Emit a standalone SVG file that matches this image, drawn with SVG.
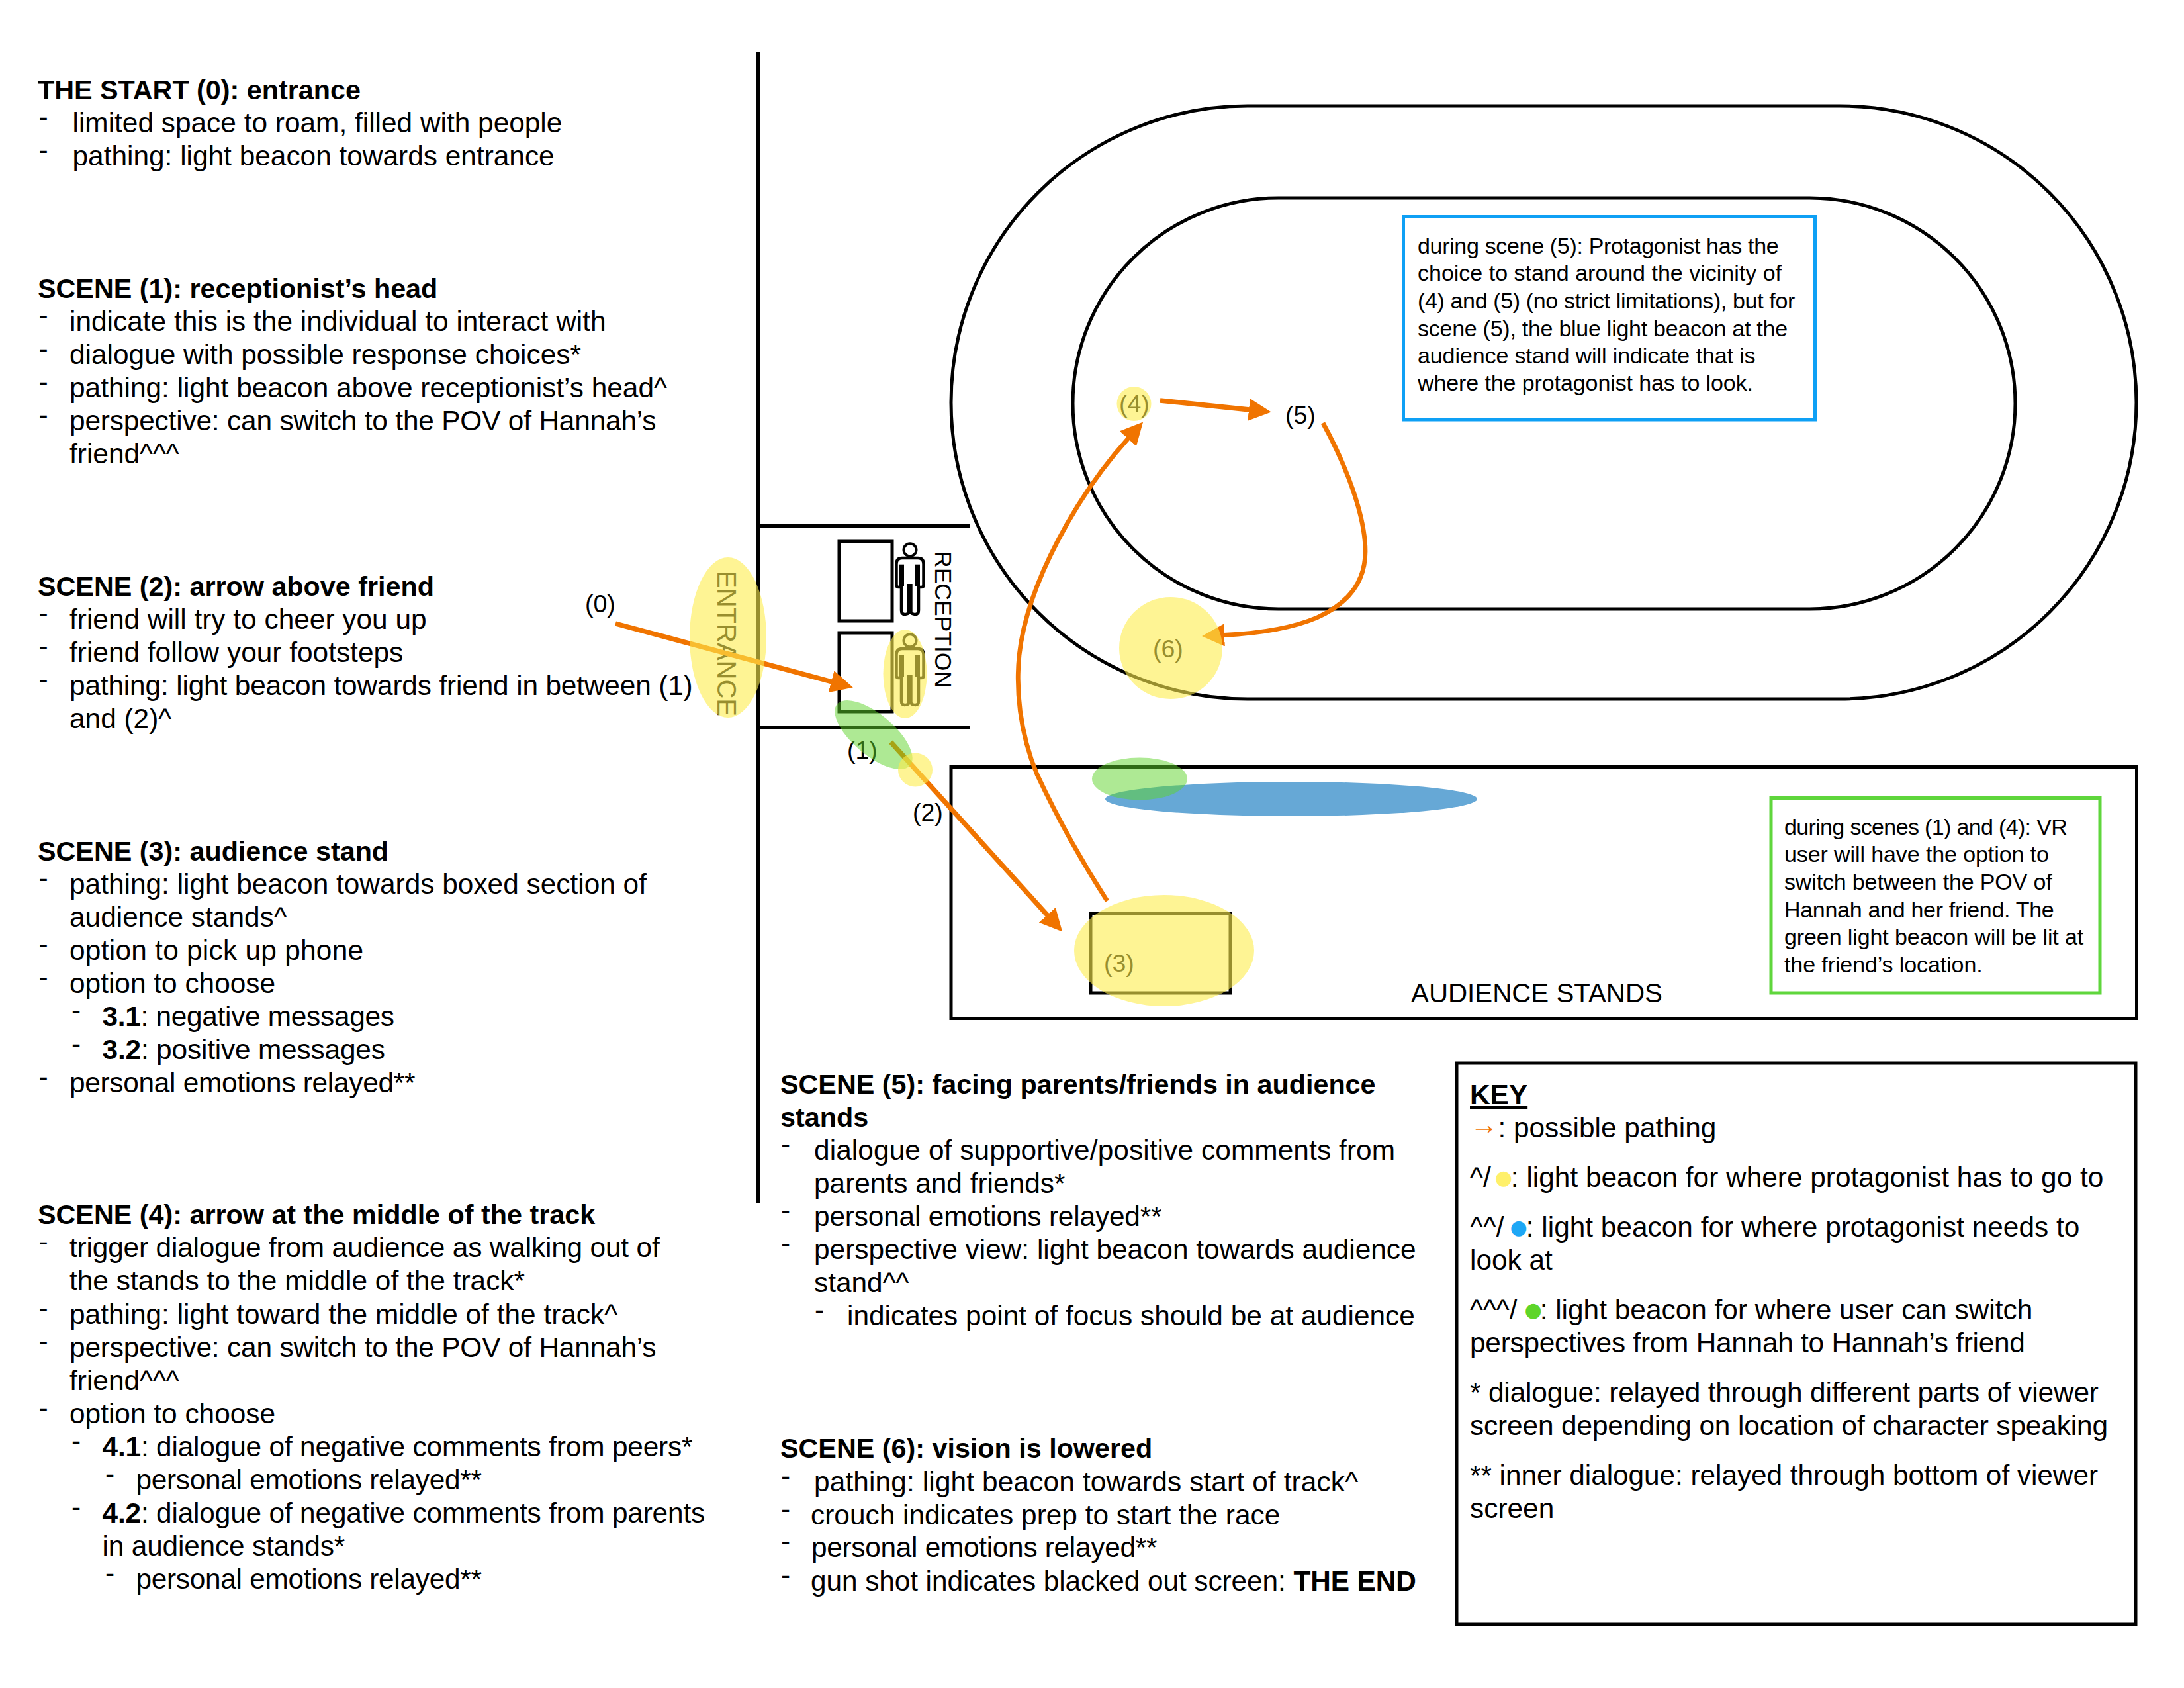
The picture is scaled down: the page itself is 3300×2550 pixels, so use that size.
<svg xmlns="http://www.w3.org/2000/svg" xmlns:xlink="http://www.w3.org/1999/xlink" width="3300" height="2550" viewBox="0 0 3300 2550">
<style>
text{font-family:"Liberation Sans",Arial,sans-serif;fill:#000}
.t{font-size:42.4px}
.b{font-size:41.3px;font-weight:700}
.b2{font-weight:700}
.d{font-size:42.4px}
.n{font-size:34px}
.l{font-size:37.5px}
.ln{fill:none;stroke:#000;stroke-width:5}
.wall{fill:none;stroke:#000;stroke-width:5}
.y{fill:rgb(254,237,76);fill-opacity:.6}
.g{fill:rgb(94,212,42);fill-opacity:.5}
.a{fill:none;stroke:#f07400;stroke-width:7.5;marker-end:url(#head)}
.cv{stroke-width:6.8}
.dot{font-family:"DejaVu Sans",sans-serif;font-size:30px}
.k30{letter-spacing:-.3px}
.k18{letter-spacing:-.18px}
</style>
<defs>
<marker id="head" markerUnits="userSpaceOnUse" viewBox="0 0 34 34" markerWidth="34" markerHeight="34" refX="1" refY="17" orient="auto"><polygon points="0,0 34,17 0,34" fill="#f07400"/></marker>
<g id="person">
<circle cx="0" cy="20.7" r="9.5" fill="none" stroke="#000" stroke-width="4"/>
<path d="M-12 33H12Q20.5 33 20.5 42V74Q20.5 77 17 77H13V112Q13 118 8 118Q3 118 0 114Q-3 118-8 118Q-13 118-13 112V77H-17Q-20.5 77-20.5 74V42Q-20.5 33-12 33Z" fill="none" stroke="#000" stroke-width="4.5"/>
<rect x="-16" y="42.7" width="7" height="33"/>
<rect x="8" y="42.7" width="7" height="33"/>
<rect x="-5" y="72" width="8.7" height="43"/>
</g>
</defs>
<rect width="3300" height="2550" fill="#fff"/>

<g id="scene-0" transform="translate(0,2)">
<text class="b" x="57" y="148">THE START (0): entrance</text>
<text class="d" x="58.5" y="189">-</text><text class="t" x="109.5" y="198">limited space to roam, filled with people</text>
<text class="d" x="58.5" y="239">-</text><text class="t" x="109.5" y="248">pathing: light beacon towards entrance</text>
</g>
<g id="scene-1" transform="translate(0,2)">
<text class="b" x="57" y="448">SCENE (1): receptionist’s head</text>
<text class="d" x="58.5" y="489">-</text><text class="t" x="105" y="498">indicate this is the individual to interact with</text>
<text class="d" x="58.5" y="539">-</text><text class="t" x="105" y="548">dialogue with possible response choices*</text>
<text class="d" x="58.5" y="589">-</text><text class="t" x="105" y="598">pathing: light beacon above receptionist’s head^</text>
<text class="d" x="58.5" y="639">-</text><text class="t k18" x="105" y="648">perspective: can switch to the POV of Hannah’s</text>
<text class="t" x="105" y="698">friend^^^</text>
</g>
<g id="scene-2" transform="translate(0,2)">
<text class="b" x="57" y="898">SCENE (2): arrow above friend</text>
<text class="d" x="58.5" y="939">-</text><text class="t" x="105" y="948">friend will try to cheer you up</text>
<text class="d" x="58.5" y="989">-</text><text class="t" x="105" y="998">friend follow your footsteps</text>
<text class="d" x="58.5" y="1039">-</text><text class="t" style="letter-spacing:-.16px" x="105" y="1048">pathing: light beacon towards friend in between (1)</text>
<text class="t" x="105" y="1098">and (2)^</text>
</g>
<g id="scene-3" transform="translate(0,2)">
<text class="b" x="57" y="1298">SCENE (3): audience stand</text>
<text class="d" x="58.5" y="1339">-</text><text class="t" x="105" y="1348">pathing: light beacon towards boxed section of</text>
<text class="t" x="105" y="1398">audience stands^</text>
<text class="d" x="58.5" y="1439">-</text><text class="t" style="letter-spacing:.26px" x="105" y="1448">option to pick up phone</text>
<text class="d" x="58.5" y="1489">-</text><text class="t" x="105" y="1498">option to choose</text>
<text class="d" x="108" y="1539">-</text><text class="t k30" x="154.5" y="1548"><tspan class="b2">3.1</tspan>: negative messages</text>
<text class="d" x="108" y="1589">-</text><text class="t k18" x="154.5" y="1598"><tspan class="b2">3.2</tspan>: positive messages</text>
<text class="d" x="58.5" y="1639">-</text><text class="t k30" x="105" y="1648">personal emotions relayed**</text>
</g>
<g id="scene-4" transform="translate(0,2)">
<text class="b" x="57" y="1847">SCENE (4): arrow at the middle of the track</text>
<text class="d" x="58.5" y="1888">-</text><text class="t k18" x="105" y="1897">trigger dialogue from audience as walking out of</text>
<text class="t" x="105" y="1947">the stands to the middle of the track*</text>
<text class="d" x="58.5" y="1989">-</text><text class="t" x="105" y="1998">pathing: light toward the middle of the track^</text>
<text class="d" x="58.5" y="2039">-</text><text class="t k18" x="105" y="2048">perspective: can switch to the POV of Hannah’s</text>
<text class="t" x="105" y="2098">friend^^^</text>
<text class="d" x="58.5" y="2139">-</text><text class="t" x="105" y="2148">option to choose</text>
<text class="d" x="108" y="2189">-</text><text class="t k18" x="154.5" y="2198"><tspan class="b2">4.1</tspan>: dialogue of negative comments from peers*</text>
<text class="d" x="159" y="2239">-</text><text class="t k30" x="205.5" y="2248">personal emotions relayed**</text>
<text class="d" x="108" y="2289">-</text><text class="t k18" x="154.5" y="2298"><tspan class="b2">4.2</tspan>: dialogue of negative comments from parents</text>
<text class="t k18" x="154.5" y="2348">in audience stands*</text>
<text class="d" x="159" y="2389">-</text><text class="t k30" x="205.5" y="2398">personal emotions relayed**</text>
</g>
<g id="scene-5" transform="translate(0,2)">
<text class="b" x="1179" y="1650">SCENE (5): facing parents/friends in audience</text>
<text class="b" x="1179" y="1700">stands</text>
<text class="d" x="1180" y="1741">-</text><text class="t" style="letter-spacing:.09px" x="1230" y="1750">dialogue of supportive/positive comments from</text>
<text class="t" x="1230" y="1800">parents and friends*</text>
<text class="d" x="1180" y="1841">-</text><text class="t k18" x="1230" y="1850">personal emotions relayed**</text>
<text class="d" x="1180" y="1891">-</text><text class="t" x="1230" y="1900">perspective view: light beacon towards audience</text>
<text class="t" x="1230" y="1950">stand^^</text>
<text class="d" x="1231" y="1991">-</text><text class="t" x="1280" y="2000">indicates point of focus should be at audience</text>
</g>
<g id="scene-6" transform="translate(0,2)">
<text class="b" x="1179" y="2200">SCENE (6): vision is lowered</text>
<text class="d" x="1180" y="2242">-</text><text class="t" style="letter-spacing:.13px" x="1230" y="2251">pathing: light beacon towards start of track^</text>
<text class="d" x="1180" y="2292">-</text><text class="t" x="1225" y="2301">crouch indicates prep to start the race</text>
<text class="d" x="1180" y="2341">-</text><text class="t k30" x="1226" y="2350">personal emotions relayed**</text>
<text class="d" x="1180" y="2392">-</text><text class="t" style="letter-spacing:-.09px" x="1225" y="2401">gun shot indicates blacked out screen: <tspan class="b2">THE END</tspan></text>
</g>

<g id="track">
<rect class="ln" x="1437" y="160" width="1791" height="896" rx="448" ry="448"/>
<rect class="ln" x="1621" y="299" width="1424" height="621" rx="310.5" ry="310.5"/>
</g>
<g id="walls">
<path class="wall" d="M1145.5 78V1818"/>
<path class="wall" d="M1145 794.5H1465M1145 1099.5H1465"/>
</g>
<g id="reception">
<rect class="ln" x="1268" y="818" width="80" height="120"/>
<rect class="ln" x="1268" y="956" width="80" height="119"/>
<use xlink:href="#person" href="#person" transform="translate(1375,810)"/>
<use xlink:href="#person" href="#person" transform="translate(1375,947)"/>
<text transform="translate(1413,832) rotate(90)" font-size="35.5">RECEPTION</text>
</g>
<g id="entrance-label">
<text transform="translate(1084,862) rotate(90)" font-size="40">ENTRANCE</text>
</g>
<g id="audience-stands">
<rect class="ln" x="1437" y="1158.5" width="1791.5" height="380"/>
<rect class="ln" x="1648" y="1380" width="211" height="120"/>
<text x="2132" y="1514" font-size="40.3">AUDIENCE STANDS</text>
<ellipse cx="1951" cy="1207" rx="281" ry="26" fill="#66a8d6"/>
</g>
<g id="note-blue">
<rect x="2120.5" y="327.5" width="622" height="306.5" fill="none" stroke="#0ea0f5" stroke-width="5"/>
<g transform="translate(0,2)">
<text class="n" style="letter-spacing:-.33px" x="2142" y="381">during scene (5): Protagonist has the</text>
<text class="n" x="2142" y="422">choice to stand around the vicinity of</text>
<text class="n" style="letter-spacing:-.36px" x="2142" y="464">(4) and (5) (no strict limitations), but for</text>
<text class="n" style="letter-spacing:-.26px" x="2142" y="505.5">scene (5), the blue light beacon at the</text>
<text class="n" style="letter-spacing:-.1px" x="2142" y="547">audience stand will indicate that is</text>
<text class="n" style="letter-spacing:-.1px" x="2142" y="588">where the protagonist has to look.</text>
</g>
</g>
<g id="note-green">
<rect x="2676" y="1205.5" width="497" height="294.5" fill="none" stroke="#5fd63c" stroke-width="5"/>
<g transform="translate(0,2)">
<text class="n" style="letter-spacing:-.65px" x="2696" y="1259">during scenes (1) and (4): VR</text>
<text class="n" style="letter-spacing:-.1px" x="2696" y="1300">user will have the option to</text>
<text class="n" style="letter-spacing:-.15px" x="2696" y="1342">switch between the POV of</text>
<text class="n" style="letter-spacing:-.3px" x="2696" y="1384">Hannah and her friend. The</text>
<text class="n" style="letter-spacing:-.1px" x="2696" y="1425">green light beacon will be lit at</text>
<text class="n" style="letter-spacing:-.1px" x="2696" y="1467">the friend’s location.</text>
</g>
</g>
<g id="key" transform="translate(0,2)">
<rect class="ln" x="2201" y="1604" width="1026" height="848"/>
<text x="2221" y="1666" font-size="42.4" font-weight="700" text-decoration="underline">KEY</text>
<text class="t" x="2221" y="1716"><tspan dy="-5" style="fill:#f07400">→</tspan><tspan dy="5">: possible pathing</tspan></text>
<text class="t" x="2221" y="1791">^/<tspan class="dot" dx="6" dy="-4" style="fill:#fff06a">●</tspan><tspan dx="-2" dy="4">: light beacon for where protagonist has to go to</tspan></text>
<text class="t" x="2221" y="1866">^^/<tspan class="dot" dx="9" dy="-4" style="fill:#1ea7f5">●</tspan><tspan dx="-2" dy="4">: light beacon for where protagonist needs to</tspan></text>
<text class="t" x="2221" y="1916">look at</text>
<text class="t" x="2221" y="1991">^^^/<tspan class="dot" dx="11" dy="-4" style="fill:#5ed52a">●</tspan><tspan dx="-3" dy="4">: light beacon for where user can switch</tspan></text>
<text class="t" style="letter-spacing:-.26px" x="2221" y="2041">perspectives from Hannah to Hannah’s friend</text>
<text class="t" style="letter-spacing:-.16px" x="2221" y="2116">* dialogue: relayed through different parts of viewer</text>
<text class="t" style="letter-spacing:-.14px" x="2221" y="2166">screen depending on location of character speaking</text>
<text class="t" style="letter-spacing:-.06px" x="2221" y="2241">** inner dialogue: relayed through bottom of viewer</text>
<text class="t" x="2221" y="2291">screen</text>
</g>
<g id="point-labels">
<text class="l" x="884" y="925">(0)</text>
<text class="l" x="1280" y="1146">(1)</text>
<text class="l" x="1379" y="1240">(2)</text>
<text class="l" x="1668" y="1468">(3)</text>
<text class="l" x="1691" y="623">(4)</text>
<text class="l" x="1942" y="640">(5)</text>
<text class="l" x="1742" y="993">(6)</text>
</g>

<g id="connectors">
<path class="a" d="M930 942L1257 1030"/>
<path class="a" d="M1346 1121L1583 1383"/>
<path class="a cv" d="M1673 1361C1640 1310 1600 1240 1567 1170C1540 1105 1535 1040 1540 990C1552 880 1630 745 1705 662"/>
<path class="a" d="M1753 605L1888 619"/>
<path class="a cv" d="M1999 639C2035 705 2063 780 2063 833C2063 885 2030 915 1990 933C1950 950 1900 957 1849 959.5"/>
</g>

<g id="beacons">
<ellipse id="beacon-entrance" class="y" cx="1100" cy="963" rx="58" ry="121"/>
<ellipse id="beacon-receptionist" class="y" cx="1367.5" cy="1018" rx="33" ry="67"/>
<ellipse id="beacon-friend-pov" class="g" cx="1320" cy="1110" rx="72" ry="31" transform="rotate(40 1320 1110)"/>
<ellipse id="beacon-friend" class="y" cx="1383" cy="1163" rx="26" ry="25.5"/>
<ellipse id="beacon-stand" class="y" cx="1759" cy="1436" rx="136" ry="84"/>
<ellipse id="beacon-track" class="y" cx="1713.5" cy="610" rx="26" ry="26"/>
<ellipse id="beacon-start" class="y" cx="1769" cy="979" rx="78" ry="77"/>
<ellipse id="beacon-audience-pov" class="g" cx="1722" cy="1176.5" rx="72" ry="32"/>
</g>
</svg>
